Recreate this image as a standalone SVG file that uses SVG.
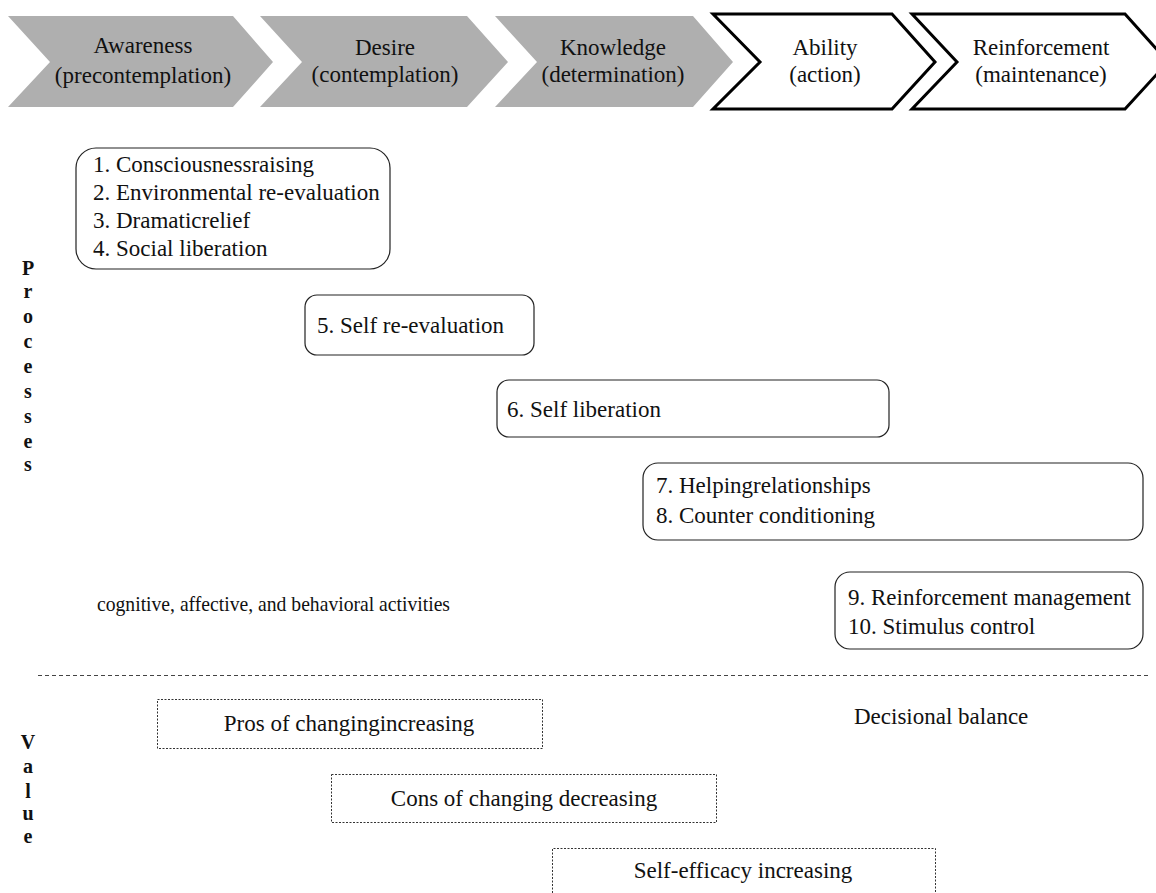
<svg xmlns="http://www.w3.org/2000/svg" width="1156" height="893" viewBox="0 0 1156 893">
<style>
  text { font-family: "Liberation Serif", "Times New Roman", serif; fill: #111; }
  .t { font-size: 23px; }
  .c { text-anchor: middle; }
  .v { font-size: 20px; font-weight: bold; text-anchor: middle; }
  .gray { fill: #afafaf; stroke: none; }
  .open { fill: #fff; stroke: #000; stroke-width: 3; stroke-linejoin: miter; }
  .box { fill: #fff; stroke: #222; stroke-width: 1.2; }
  .dbox { fill: none; stroke: #333; stroke-width: 1; stroke-dasharray: 2 1.5; }
  .sep { stroke: #444; stroke-width: 1; stroke-dasharray: 4 3; fill: none; }
</style>
<rect width="1156" height="893" fill="#fff"/>

<g id="stage-awareness">
  <path class="gray" d="M8,16 L233,16 L273,62 L233,107 L8,107 L50,62 Z"/>
  <text class="t c" x="143" y="53">Awareness</text>
  <text class="t c" x="143" y="83">(precontemplation)</text>
</g>
<g id="stage-desire">
  <path class="gray" d="M260,16 L467,16 L508,62 L467,107 L260,107 L302,62 Z"/>
  <text class="t c" x="385" y="55">Desire</text>
  <text class="t c" x="385" y="82">(contemplation)</text>
</g>
<g id="stage-knowledge">
  <path class="gray" d="M495,16 L693,16 L733,62 L693,107 L495,107 L537,62 Z"/>
  <text class="t c" x="613" y="55">Knowledge</text>
  <text class="t c" x="613" y="82">(determination)</text>
</g>
<g id="stage-ability">
  <path class="open" d="M713,14 L892,14 L935,62 L892,109 L713,109 L760,62 Z"/>
  <text class="t c" x="825" y="55">Ability</text>
  <text class="t c" x="825" y="82">(action)</text>
</g>
<g id="stage-reinforcement">
  <path class="open" d="M912,14 L1125,14 L1168,62 L1125,109 L912,109 L957,62 Z"/>
  <text class="t c" x="1041" y="55">Reinforcement</text>
  <text class="t c" x="1041" y="82">(maintenance)</text>
</g>

<g id="label-processes">
  <text class="v" x="28" y="275">P</text>
  <text class="v" x="28" y="298">r</text>
  <text class="v" x="28" y="323">o</text>
  <text class="v" x="28" y="348">c</text>
  <text class="v" x="28" y="373">e</text>
  <text class="v" x="28" y="398">s</text>
  <text class="v" x="28" y="423">s</text>
  <text class="v" x="28" y="448">e</text>
  <text class="v" x="28" y="471">s</text>
</g>

<g id="proc-1-4">
  <rect class="box" x="76" y="148" width="314" height="121" rx="20"/>
  <text class="t" x="93" y="172">1. Consciousnessraising</text>
  <text class="t" x="93" y="200">2. Environmental re-evaluation</text>
  <text class="t" x="93" y="228">3. Dramaticrelief</text>
  <text class="t" x="93" y="256">4. Social liberation</text>
</g>
<g id="proc-5">
  <rect class="box" x="305" y="295" width="229" height="60" rx="12"/>
  <text class="t" x="317" y="333">5. Self re-evaluation</text>
</g>
<g id="proc-6">
  <rect class="box" x="497" y="380" width="392" height="57" rx="12"/>
  <text class="t" x="507" y="417">6. Self liberation</text>
</g>
<g id="proc-7-8">
  <rect class="box" x="643" y="463" width="500" height="77" rx="15"/>
  <text class="t" x="656" y="493">7. Helpingrelationships</text>
  <text class="t" x="656" y="523">8. Counter conditioning</text>
</g>
<g id="proc-9-10">
  <rect class="box" x="835" y="572" width="308" height="77" rx="15"/>
  <text class="t" x="848" y="605">9. Reinforcement management</text>
  <text class="t" x="848" y="634">10. Stimulus control</text>
</g>

<g id="note-activities">
  <text x="97" y="611" font-size="21" textLength="353" lengthAdjust="spacingAndGlyphs">cognitive, affective, and behavioral activities</text>
</g>

<g id="connectors">
  <line class="sep" x1="38" y1="675.5" x2="1148" y2="675.5"/>
</g>

<g id="label-value">
  <text class="v" x="28" y="749">V</text>
  <text class="v" x="28" y="773">a</text>
  <text class="v" x="28" y="798">l</text>
  <text class="v" x="28" y="820">u</text>
  <text class="v" x="28" y="843">e</text>
</g>

<g id="value-pros">
  <rect class="dbox" x="157.5" y="699.5" width="385" height="49"/>
  <text class="t c" x="349" y="731">Pros of changingincreasing</text>
</g>
<g id="value-cons">
  <rect class="dbox" x="331.5" y="774.5" width="385" height="48"/>
  <text class="t c" x="524" y="806">Cons of changing decreasing</text>
</g>
<g id="value-selfefficacy">
  <path class="dbox" d="M552.5,900 L552.5,848.5 L935.5,848.5 L935.5,900"/>
  <text class="t c" x="743" y="878">Self-efficacy increasing</text>
</g>
<g id="note-decisional">
  <text class="t" x="854" y="724">Decisional balance</text>
</g>
</svg>
